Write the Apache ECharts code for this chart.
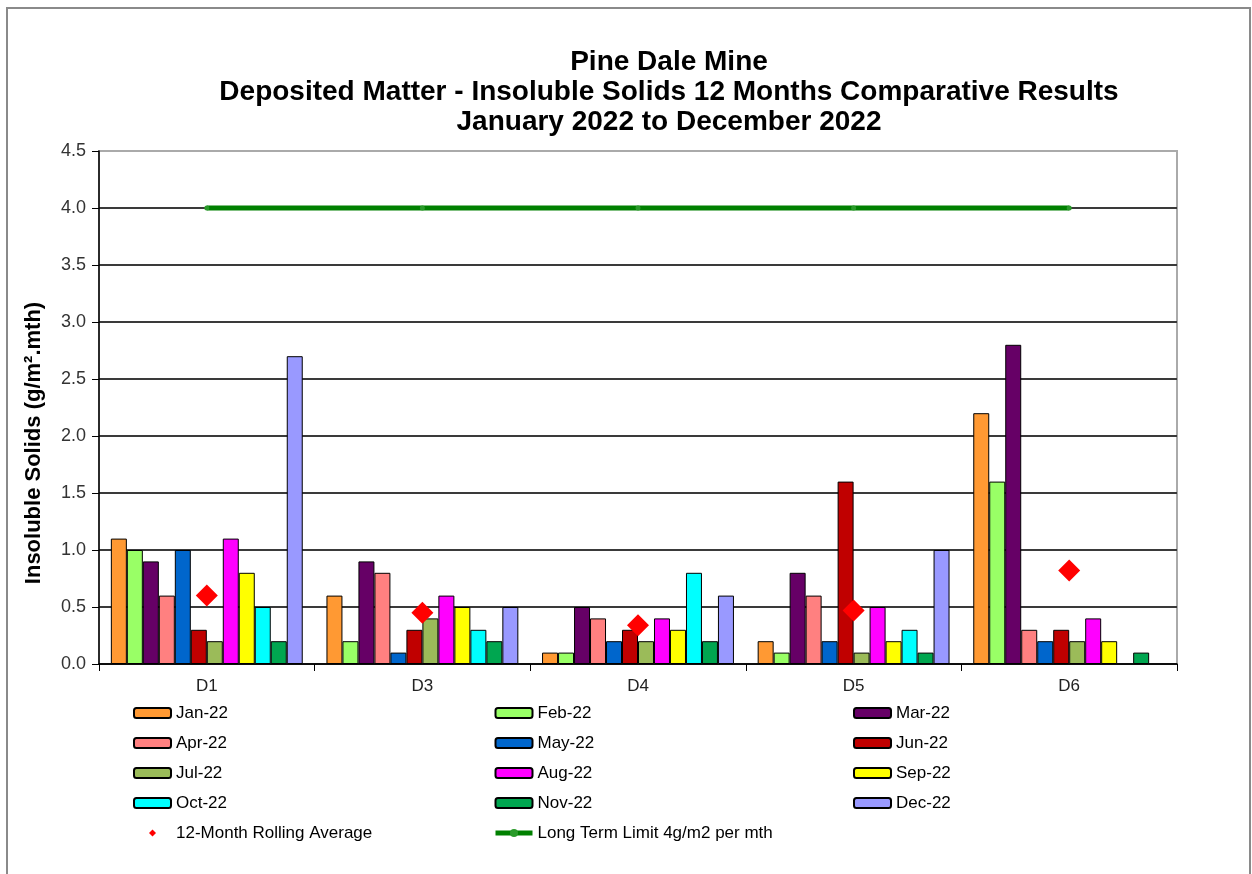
<!doctype html>
<html lang="en">
<head>
<meta charset="UTF-8">
<title>Pine Dale Mine - Insoluble Solids</title>
<style>
  html, body { margin: 0; padding: 0; background: #fff; }
  #main { width: 1252px; height: 874px; }
</style>
</head>
<body>
<div id="main"></div>
<script src="https://cdn.jsdelivr.net/npm/echarts@6/dist/echarts.min.js"></script>
<script>
// sites on the x axis
var sites = ['D1', 'D3', 'D4', 'D5', 'D6'];
var yTicks = [0, 0.5, 1.0, 1.5, 2.0, 2.5, 3.0, 3.5, 4.0, 4.5];

// monthly values per site (D1, D3, D4, D5, D6)
var jan22 = [1.1, 0.6, 0.1, 0.2, 2.2];
var feb22 = [1.0, 0.2, 0.1, 0.1, 1.6];
var mar22 = [0.9, 0.9, 0.5, 0.8, 2.8];
var apr22 = [0.6, 0.8, 0.4, 0.6, 0.3];
var may22 = [1.0, 0.1, 0.2, 0.2, 0.2];
var jun22 = [0.3, 0.3, 0.3, 1.6, 0.3];
var jul22 = [0.2, 0.4, 0.2, 0.1, 0.2];
var aug22 = [1.1, 0.6, 0.4, 0.5, 0.4];
var sep22 = [0.8, 0.5, 0.3, 0.2, 0.2];
var oct22 = [0.5, 0.3, 0.8, 0.3, null];
var nov22 = [0.2, 0.2, 0.2, 0.1, 0.1];
var dec22 = [2.7, 0.5, 0.6, 1.0, null];

var rollingAvg = [0.6, 0.45, 0.34, 0.47, 0.82];
var longTermLimit = [4, 4, 4, 4, 4];

var months = [
    ['Jan-22', jan22, '#FF9933'],
    ['Feb-22', feb22, '#99FF66'],
    ['Mar-22', mar22, '#660066'],
    ['Apr-22', apr22, '#FF8080'],
    ['May-22', may22, '#0066CC'],
    ['Jun-22', jun22, '#C00000'],
    ['Jul-22', jul22, '#9BBB59'],
    ['Aug-22', aug22, '#FF00FF'],
    ['Sep-22', sep22, '#FFFF00'],
    ['Oct-22', oct22, '#00FFFF'],
    ['Nov-22', nov22, '#00A650'],
    ['Dec-22', dec22, '#9999FF']
];

var font = '"Liberation Sans", Arial, sans-serif';

var series = [];
for (var m of months) {
    series.push({
        name: m[0],
        type: 'bar',
        data: m[1],
        barGap: 0,
        barCategoryGap: '11%',
        itemStyle: { color: m[2], borderColor: '#000', borderWidth: 1 }
    });
}
series.push({
    name: '12-Month Rolling Average',
    type: 'scatter',
    data: rollingAvg,
    symbol: 'diamond',
    symbolSize: 22,
    z: 5,
    itemStyle: { color: '#FF0000', opacity: 1 }
});
series.push({
    name: 'Long Term Limit 4g/m2 per mth',
    type: 'line',
    data: longTermLimit,
    symbol: 'circle',
    symbolSize: 5,
    z: 4,
    lineStyle: { color: '#008000', width: 5 },
    itemStyle: { color: '#2a9a2a' }
});

function legendCol(left, names) {
    return {
        orient: 'vertical',
        left: left,
        top: 704,
        itemWidth: 37,
        itemHeight: 10,
        itemGap: 12,
        padding: 0,
        textStyle: { fontFamily: font, fontSize: 17, color: '#000', lineHeight: 18 },
        data: names
    };
}

var splitColors = [];
for (var i = 0; i < yTicks.length; i++) {
    splitColors.push(i === yTicks.length - 1 ? '#aaaaaa' : '#3a3a3a');
}

var option = {
    backgroundColor: '#fff',
    animation: false,
    title: {
        text: 'Pine Dale Mine\nDeposited Matter - Insoluble Solids 12 Months Comparative Results\nJanuary 2022 to December 2022',
        left: 664,
        top: 42,
        textAlign: 'center',
        textStyle: { fontFamily: font, fontSize: 28, fontWeight: 'bold', color: '#000', lineHeight: 30 }
    },
    legend: [
        legendCol(133, ['Jan-22', 'Apr-22', 'Jul-22', 'Oct-22', {
            name: '12-Month Rolling Average',
            icon: 'path://M0,0M37,10M18.5,1.5L22,5L18.5,8.5L15,5Z',
            itemStyle: { color: '#FF0000', opacity: 1 }
        }]),
        legendCol(493, ['Feb-22', 'May-22', 'Aug-22', 'Nov-22', {
            name: 'Long Term Limit 4g/m2 per mth',
            lineStyle: { color: '#008000', width: 5 }
        }]),
        legendCol(853, ['Mar-22', 'Jun-22', 'Sep-22', 'Dec-22'])
    ],
    grid: {
        left: 99,
        right: 75,
        top: 151,
        bottom: 210,
        show: true,
        borderColor: '#aaaaaa',
        borderWidth: 2
    },
    xAxis: {
        type: 'category',
        data: sites,
        axisLine: { lineStyle: { color: '#000', width: 1.5 } },
        axisTick: { show: true, length: 7, lineStyle: { color: '#000' } },
        axisLabel: { fontFamily: font, fontSize: 17, color: '#222', margin: 14 }
    },
    yAxis: {
        type: 'value',
        min: 0,
        max: 4.5,
        interval: 0.5,
        axisLine: { show: true, lineStyle: { color: '#000', width: 1.5 } },
        axisTick: { show: true, length: 7, lineStyle: { color: '#000' } },
        axisLabel: {
            fontFamily: font, fontSize: 18, color: '#333', margin: 13,
            formatter: function (v) { return v.toFixed(1); }
        },
        splitLine: { show: true, lineStyle: { color: splitColors, width: 2 } }
    },
    graphic: [
        {
            type: 'rect',
            shape: { x: 7, y: 8, width: 1243, height: 900 },
            style: { fill: 'none', stroke: '#8a8a8a', lineWidth: 2 },
            silent: true
        },
        {
            type: 'text',
            x: 34,
            y: 443,
            rotation: Math.PI / 2,
            style: {
                text: 'Insoluble Solids (g/m².mth)',
                font: 'bold 22px ' + font,
                fill: '#000',
                align: 'center',
                verticalAlign: 'middle'
            }
        }
    ],
    series: series
};

var myChart = echarts.init(document.getElementById('main'));
myChart.setOption(option);
</script>
</body>
</html>
